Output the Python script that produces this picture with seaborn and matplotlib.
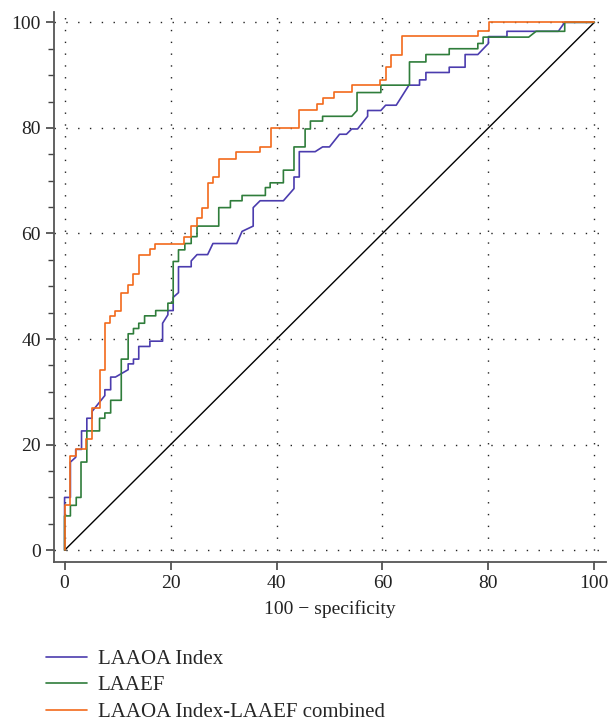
import numpy as np
import pandas as pd
import matplotlib
matplotlib.use("Agg")
import matplotlib.pyplot as plt
import seaborn as sns

# ROC curves (100 - specificity, sensitivity)
laaoa_x = [0, 0, 1.1, 1.1, 2.1, 2.1, 3.2, 3.2, 4.2, 4.2, 5.2, 5.2, 7.6, 7.6, 8.7, 8.7,
           9.6, 12.0, 12.0, 13.0, 13.0, 14.0, 14.0, 16.1, 16.1, 18.5, 18.5, 19.5, 19.5,
           20.5, 20.5, 21.5, 21.5, 23.9, 23.9, 25.0, 27.0, 28.0, 32.5, 33.5, 35.6, 35.6,
           36.9, 41.3, 43.3, 43.3, 44.3, 44.3, 47.3, 48.7, 50.0, 51.9, 53.2, 54.2, 55.3,
           57.2, 57.2, 59.7, 60.6, 62.6, 65.0, 67.0, 67.0, 68.2, 68.2, 72.6, 72.6, 75.6,
           75.6, 78.0, 80.0, 80.0, 83.5, 83.5, 93.2, 94.4, 100]
laaoa_y = [0, 10.0, 10.0, 16.7, 17.6, 19.1, 19.1, 22.6, 22.6, 25.0, 25.0, 26.3, 29.3, 30.4, 30.4, 32.8,
           32.8, 34.2, 35.3, 35.3, 36.2, 36.2, 38.6, 38.6, 39.6, 39.6, 43.0, 44.6, 45.4,
           45.4, 47.9, 48.8, 53.7, 53.7, 54.8, 56.0, 56.0, 58.1, 58.1, 60.4, 61.4, 64.9,
           66.2, 66.2, 68.5, 70.7, 70.7, 75.5, 75.5, 76.4, 76.4, 78.8, 78.8, 79.8, 79.8,
           82.2, 83.3, 83.3, 84.3, 84.3, 88.1, 88.1, 89.1, 89.1, 90.5, 90.5, 91.5, 91.5,
           93.9, 93.9, 96.0, 97.3, 97.3, 98.3, 98.3, 100, 100]

laaef_x = [0, 0, 1.1, 1.1, 2.2, 2.2, 3.1, 3.1, 4.2, 4.2, 6.6, 6.6, 7.6, 7.6, 8.7, 8.7,
           10.7, 10.7, 12.0, 12.0, 13.0, 13.0, 14.0, 14.0, 15.1, 15.1, 17.2, 17.2, 19.5,
           19.5, 20.5, 20.5, 21.5, 21.5, 22.7, 22.7, 23.9, 23.9, 25.0, 25.0, 29.1, 29.1,
           31.3, 31.3, 33.5, 33.5, 37.9, 37.9, 38.8, 38.8, 41.3, 41.3, 43.3, 43.3, 45.4,
           45.4, 46.4, 46.4, 48.7, 48.7, 54.2, 55.2, 55.2, 59.7, 59.7, 65.1, 65.1, 68.2,
           68.2, 72.6, 72.6, 78.0, 78.0, 79.0, 79.0, 87.6, 89.0, 94.4, 94.4, 100]
laaef_y = [0, 6.5, 6.5, 8.5, 8.5, 10.0, 10.0, 16.7, 16.7, 22.6, 22.6, 25.0, 25.0, 26.0, 26.0, 28.4,
           28.4, 36.2, 36.2, 41.0, 41.0, 42.0, 42.0, 43.0, 43.0, 44.4, 44.4, 45.4, 45.4,
           46.8, 46.8, 54.7, 54.7, 56.9, 56.9, 58.1, 58.1, 59.4, 59.4, 61.4, 61.4, 64.9,
           64.9, 66.2, 66.2, 67.2, 67.2, 68.7, 68.7, 69.6, 69.6, 72.0, 72.0, 76.4, 76.4,
           79.8, 79.8, 81.3, 81.3, 82.2, 82.2, 83.3, 86.7, 86.7, 88.1, 88.1, 92.5, 92.5,
           93.9, 93.9, 95.0, 95.0, 96.0, 96.0, 97.2, 97.2, 98.3, 98.3, 100, 100]

comb_x = [0, 0, 1.1, 1.1, 2.1, 2.1, 4.1, 4.1, 5.2, 5.2, 6.6, 6.6, 7.7, 7.7, 8.6, 8.6,
          9.6, 9.6, 10.7, 10.7, 12.0, 12.0, 13.0, 13.0, 14.0, 14.0, 16.2, 16.2, 17.1,
          17.1, 22.5, 22.5, 23.9, 23.9, 25.0, 25.0, 26.0, 26.0, 27.0, 27.0, 28.0, 28.0,
          29.1, 29.1, 32.4, 32.4, 36.8, 36.8, 38.9, 38.9, 44.3, 44.3, 47.7, 47.7, 48.7,
          48.7, 50.9, 50.9, 54.3, 54.3, 59.6, 59.6, 60.6, 60.6, 61.7, 61.7, 63.7, 63.7,
          78.0, 78.0, 80.1, 80.1, 100]
comb_y = [0, 8.5, 8.5, 17.8, 17.8, 19.1, 19.1, 21.1, 21.1, 27.0, 27.0, 34.2, 34.2, 43.0, 43.0, 44.4,
          44.4, 45.4, 45.4, 48.8, 48.8, 50.2, 50.2, 52.3, 52.3, 56.0, 56.0, 57.0, 57.0,
          58.0, 58.0, 59.4, 59.4, 61.4, 61.4, 62.9, 62.9, 64.9, 64.9, 69.6, 69.6, 70.7,
          70.7, 74.1, 74.1, 75.4, 75.4, 76.4, 76.4, 79.9, 79.9, 83.3, 83.3, 84.6, 84.6,
          85.7, 85.7, 86.8, 86.8, 88.1, 88.1, 89.0, 89.0, 91.6, 91.6, 93.9, 93.9, 97.4,
          97.4, 98.3, 98.3, 100, 100]

ref_x = [0, 100]
ref_y = [0, 100]

labels = ["LAAOA Index", "LAAEF", "LAAOA Index-LAAEF combined"]
colors = ["#4b3cae", "#2f7d3b", "#f26a1b"]

df = pd.concat([
    pd.DataFrame({"x": laaoa_x, "y": laaoa_y, "curve": labels[0]}),
    pd.DataFrame({"x": laaef_x, "y": laaef_y, "curve": labels[1]}),
    pd.DataFrame({"x": comb_x, "y": comb_y, "curve": labels[2]}),
], ignore_index=True)

sns.set_style("ticks")
plt.rcParams["font.family"] = ["Liberation Serif", "DejaVu Serif"]

fig = plt.figure(figsize=(6.10, 7.24), dpi=100)
ax = fig.add_axes([0.0885, 0.224, 0.905, 0.759])

ax.plot(ref_x, ref_y, color="black", lw=1.0, zorder=1)
sns.lineplot(data=df, x="x", y="y", hue="curve", hue_order=labels,
             palette=colors, sort=False, estimator=None, lw=1.2, ax=ax, zorder=2)

ax.set_xlim(-2.0, 102.2)
ax.set_ylim(-2.2, 101.9)
ax.set_xticks(np.arange(0, 101, 20))
ax.set_yticks(np.arange(0, 101, 20))
ax.set_yticks(np.arange(0, 101, 5), minor=True)
ax.grid(True, which="major", color="#222222", lw=1.0, ls=(0, (1, 7.5)))
ax.tick_params(axis="both", which="major", length=6, width=1.2, color="#444444",
               labelsize=14, labelcolor="#222222")
ax.tick_params(axis="y", which="minor", length=4, width=1.0, color="#444444")
for s in ["top", "right"]:
    ax.spines[s].set_visible(False)
for s in ["left", "bottom"]:
    ax.spines[s].set_color("#555555")
    ax.spines[s].set_linewidth(1.3)

ax.set_xlabel("100 \u2212 specificity", fontsize=14, color="#222222", labelpad=6)
ax.set_ylabel("")

handles, labs = ax.get_legend_handles_labels()
ax.get_legend().remove()
fig.legend(handles, labs, loc="upper left", bbox_to_anchor=(0.075, 0.103),
           frameon=False, fontsize=15, handlelength=2.0, handletextpad=0.5,
           labelspacing=0.33, borderpad=0, borderaxespad=0)

fig.savefig("out.png", dpi=100)
